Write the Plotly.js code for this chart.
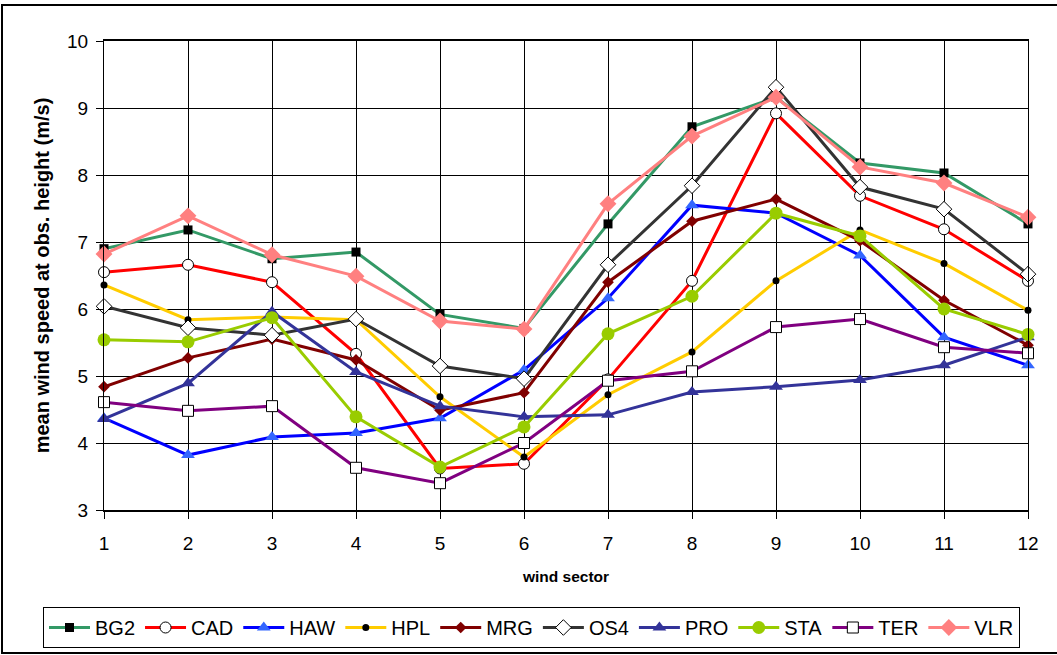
<!DOCTYPE html>
<html>
<head>
<meta charset="utf-8">
<script src="https://cdn.plot.ly/plotly-3.0.1.min.js"></script>
<style>
  html, body { margin: 0; padding: 0; background: #fff; }
  #chart { width: 1057px; height: 655px; }
</style>
</head>
<body>
<div id="chart"></div>
<script>
const sectors = [1, 2, 3, 4, 5, 6, 7, 8, 9, 10, 11, 12];

const BG2 = [6.90, 7.18, 6.75, 6.85, 5.92, 5.71, 7.27, 8.72, 9.16, 8.18, 8.03, 7.27];
const CAD = [6.55, 6.66, 6.40, 5.33, 3.62, 3.69, 4.95, 6.42, 8.92, 7.69, 7.19, 6.42];
const HAW = [4.37, 3.82, 4.09, 4.15, 4.37, 5.09, 6.16, 7.55, 7.43, 6.80, 5.58, 5.16];
const HPL = [6.36, 5.84, 5.88, 5.84, 4.69, 3.79, 4.72, 5.36, 6.42, 7.18, 6.68, 5.98];
const MRG = [4.84, 5.27, 5.55, 5.24, 4.49, 4.75, 6.40, 7.31, 7.64, 7.02, 6.13, 5.46];
const OS4 = [6.04, 5.72, 5.61, 5.85, 5.15, 4.96, 6.66, 7.84, 9.31, 7.82, 7.49, 6.52];
const PRO = [4.36, 4.89, 5.96, 5.06, 4.55, 4.39, 4.42, 4.76, 4.84, 4.94, 5.16, 5.58];
const STA = [5.54, 5.51, 5.87, 4.39, 3.64, 4.24, 5.63, 6.19, 7.43, 7.09, 6.00, 5.62];
const TER = [4.61, 4.48, 4.55, 3.63, 3.40, 4.00, 4.93, 5.07, 5.73, 5.85, 5.43, 5.34];
const VLR = [6.82, 7.39, 6.81, 6.49, 5.82, 5.70, 7.57, 8.58, 9.16, 8.12, 7.88, 7.37];

const yTicks = [3, 4, 5, 6, 7, 8, 9, 10];

const seriesNames = ['BG2', 'CAD', 'HAW', 'HPL', 'MRG', 'OS4', 'PRO', 'STA', 'TER', 'VLR'];
const seriesData = [BG2, CAD, HAW, HPL, MRG, OS4, PRO, STA, TER, VLR];

const styles = {
  BG2: {line: '#339966', marker: {symbol: 'square', color: '#000000', size: 9, line: {color: '#000000', width: 0}}},
  CAD: {line: '#FF0000', marker: {symbol: 'circle', color: '#FFFFFF', size: 11, line: {color: '#000000', width: 1}}},
  HAW: {line: '#0000FF', marker: {symbol: 'triangle-up', color: '#3366FF', size: 12, line: {color: '#3366FF', width: 0}}},
  HPL: {line: '#FFCC00', marker: {symbol: 'circle', color: '#000000', size: 7, line: {color: '#000000', width: 0}}},
  MRG: {line: '#800000', marker: {symbol: 'diamond', color: '#800000', size: 9, line: {color: '#800000', width: 0}}},
  OS4: {line: '#333333', marker: {symbol: 'diamond', color: '#FFFFFF', size: 12, line: {color: '#000000', width: 1}}},
  PRO: {line: '#333399', marker: {symbol: 'triangle-up', color: '#333399', size: 12, line: {color: '#333399', width: 0}}},
  STA: {line: '#99CC00', marker: {symbol: 'circle', color: '#99CC00', size: 13, line: {color: '#99CC00', width: 0}}},
  TER: {line: '#800080', marker: {symbol: 'square', color: '#FFFFFF', size: 11, line: {color: '#000000', width: 1}}},
  VLR: {line: '#FF8080', marker: {symbol: 'diamond', color: '#FF8080', size: 13, line: {color: '#FF8080', width: 0}}}
};

const traces = seriesNames.map((name, i) => ({
  type: 'scatter',
  mode: 'lines+markers',
  name: name,
  x: sectors,
  y: seriesData[i],
  line: {color: styles[name].line, width: 3},
  marker: styles[name].marker,
  cliponaxis: false
}));

const font = 'Arial, "Liberation Sans", sans-serif';
const W = 1057, H = 655;
const L = 104, R = 1028, T = 41, B = 510;
const PW = R - L, PH = B - T;

const layout = {
  width: W,
  height: H,
  margin: {l: L, r: W - R, t: T, b: H - B, autoexpand: false},
  paper_bgcolor: '#FFFFFF',
  plot_bgcolor: '#FFFFFF',
  font: {family: font, color: '#000000', size: 19},
  showlegend: true,
  legend: {
    orientation: 'h',
    x: (43 - L) / PW, xanchor: 'left',
    y: (B - 607) / PH, yanchor: 'top',
    bordercolor: '#000000', borderwidth: 1,
    font: {family: font, size: 20, color: '#000000'},
    itemwidth: 41,
    tracegroupgap: 0
  },
  xaxis: {
    range: [1, 12],
    tickmode: 'array',
    tickvals: sectors,
    ticktext: sectors.map(String),
    showgrid: true, gridcolor: '#000000', gridwidth: 1,
    zeroline: false,
    showline: true, linecolor: '#000000', linewidth: 2, mirror: true,
    ticks: 'outside', ticklen: 7, tickcolor: '#000000',
    ticklabelstandoff: 8,
    tickfont: {family: font, size: 19},
    title: {text: '<b>wind sector</b>', font: {family: font, size: 15.5}, standoff: 18}
  },
  yaxis: {
    range: [3, 10],
    tickmode: 'array',
    tickvals: yTicks,
    ticktext: yTicks.map(String),
    showgrid: true, gridcolor: '#000000', gridwidth: 1,
    zeroline: false,
    showline: true, linecolor: '#000000', linewidth: 1, mirror: true,
    ticks: 'outside', ticklen: 7, tickcolor: '#000000',
    ticklabelstandoff: 4,
    tickfont: {family: font, size: 19},
    title: {text: '<b>mean wind speed at obs. height (m/s)</b>', font: {family: font, size: 20}, standoff: 12}
  },
  shapes: [{
    type: 'rect', xref: 'paper', yref: 'paper',
    x0: (2 - L) / PW, x1: (1060 - L) / PW,
    y0: (B - 653) / PH, y1: (B - 5) / PH,
    line: {color: '#000000', width: 2}, fillcolor: 'rgba(0,0,0,0)', layer: 'below'
  }]
};

Plotly.newPlot('chart', traces, layout, {displayModeBar: false, staticPlot: true});
</script>
</body>
</html>
